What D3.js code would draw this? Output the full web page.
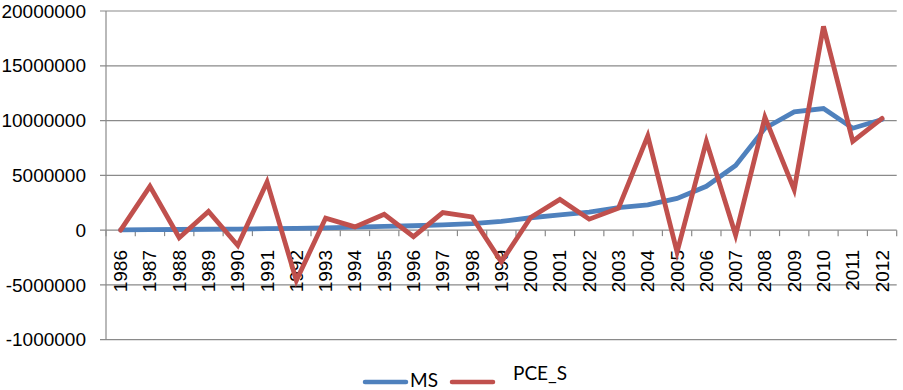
<!DOCTYPE html>
<html><head><meta charset="utf-8">
<script src="https://cdn.jsdelivr.net/npm/d3@7"></script>
<style>body{margin:0;background:#fff}svg{display:block}</style>
</head><body>
<svg id="c" width="903" height="390"></svg>
<script>
const years = ["1986","1987","1988","1989","1990","1991","1992","1993","1994","1995","1996","1997","1998","1999","2000","2001","2002","2003","2004","2005","2006","2007","2008","2009","2010","2011","2012"];
const msValues = [20000,40000,60000,80000,100000,130000,160000,200000,270000,340000,400000,480000,600000,800000,1130000,1400000,1650000,2050000,2300000,2900000,4000000,5900000,9300000,10800000,11100000,9300000,10100000];
const pceValues = [0,4000000,-700000,1700000,-1400000,4400000,-4600000,1100000,300000,1450000,-600000,1600000,1200000,-2900000,1150000,2800000,1000000,2000000,8600000,-2000000,8100000,-450000,10300000,3700000,18600000,8100000,10200000];
const yTickValues = [20000000,15000000,10000000,5000000,0,-5000000,-10000000];
const yTickLabels = ["20000000","15000000","10000000","5000000","0","-5000000","-1000000"];
const seriesNames = ["MS","PCE_S"];
const seriesColors = ["#4F81BD","#C0504D"];

const svg = d3.select("#c");
const pL = 106, pR = 896.7, pT = 11, pB = 339.7;
const x = d3.scaleBand().domain(years).range([pL, pR]);
const y = d3.scaleLinear().domain([-10000000, 20000000]).range([pB, pT]);
const gridColor = "#8a8a8a";
const axisFont = "Arial, 'Liberation Sans', sans-serif";

// gridlines
svg.append("g").selectAll("line").data(yTickValues).join("line")
  .attr("x1", pL - 6).attr("x2", pR)
  .attr("y1", d => y(d)).attr("y2", d => y(d))
  .attr("stroke", gridColor).attr("stroke-width", 1.2);

// y labels
svg.append("g").selectAll("text").data(yTickValues).join("text")
  .attr("x", 86).attr("y", d => y(d)).attr("dy", "0.35em")
  .attr("text-anchor", "end")
  .attr("font-family", axisFont).attr("font-size", 19)
  .attr("fill", "#000")
  .text((d, i) => yTickLabels[i]);

// vertical axis
svg.append("line").attr("x1", pL).attr("x2", pL).attr("y1", pT).attr("y2", pB)
  .attr("stroke", gridColor).attr("stroke-width", 1.2);

// x axis ticks at zero
const bounds = years.map(d => x(d)).concat([pR]);
svg.append("g").selectAll("line").data(bounds).join("line")
  .attr("x1", d => d).attr("x2", d => d)
  .attr("y1", y(0)).attr("y2", y(0) + 6)
  .attr("stroke", gridColor).attr("stroke-width", 1.2);

// x labels
svg.append("g").selectAll("text").data(years).join("text")
  .attr("transform", d => `translate(${x(d) + x.bandwidth()/2 + 6.5},250) rotate(-90)`)
  .attr("text-anchor", "end")
  .attr("font-family", axisFont).attr("font-size", 19)
  .attr("fill", "#000")
  .text(d => d);

const line = d3.line().x((d, i) => x(years[i]) + x.bandwidth()/2).y(d => y(d));
[msValues, pceValues].forEach((vals, k) => {
  svg.append("path").datum(vals).attr("d", line)
    .attr("fill", "none").attr("stroke", seriesColors[k]).attr("stroke-width", 4.8)
    .attr("stroke-linejoin", "miter").attr("stroke-linecap", "round");
});

// legend
const leg = [{x1:365,x2:406,tx:410,ty:387},{x1:452,x2:493,tx:513,ty:380}];
leg.forEach((l, k) => {
  svg.append("line").attr("x1", l.x1).attr("x2", l.x2).attr("y1", 382).attr("y2", 382)
    .attr("stroke", seriesColors[k]).attr("stroke-width", 4.5).attr("stroke-linecap", "round");
  svg.append("text").attr("x", l.tx).attr("y", l.ty)
    .attr("font-family", "Lato, Carlito, Calibri, sans-serif").attr("font-size", 19)
    .attr("fill", "#000").text(seriesNames[k]);
});
</script>
</body></html>
